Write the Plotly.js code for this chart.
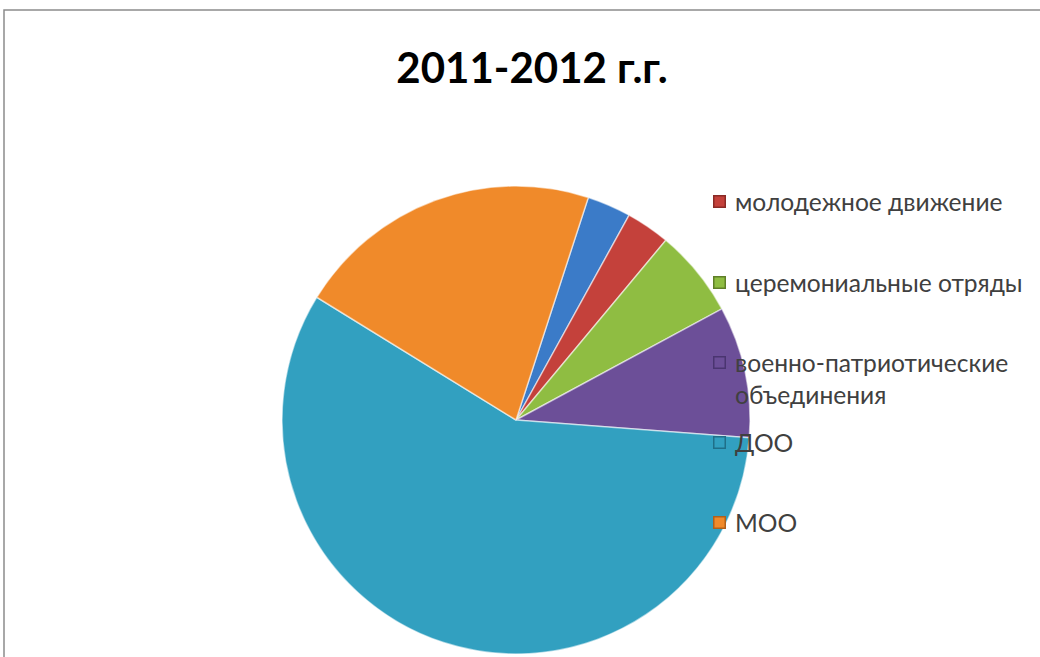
<!DOCTYPE html>
<html>
<head>
<meta charset="utf-8">
<script src="https://cdn.plot.ly/plotly-3.0.1.min.js"></script>
<style>html,body{margin:0;padding:0;background:#fff;}#chart{width:1040px;height:657px;}</style>
</head>
<body>
<div id="chart"></div>
<script>
// Data (first blue slice has no visible legend entry)
const labels = ["(без подписи)", "молодежное движение", "церемониальные отряды", "военно-патриотические объединения", "ДОО", "МОО"];
const values = [1, 1, 2, 3, 19, 7];
const colors = ["#3b7bc8", "#c4413b", "#8fbd42", "#6c4f98", "#32a0c0", "#f08a2a"];
const legendLabels = ["молодежное движение", "церемониальные отряды", "военно-патриотические<br>объединения", "ДОО", "МОО"];
const legendColors = colors.slice(1);
const legendEdge = ["#8a2a26", "#5f7f28", "#4a3570", "#1f6f88", "#b0601a"];
const titleText = "2011-2012 г.г.";

const W = 1040, H = 657;
const px = x => x / W;
const py = y => 1 - y / H;

const legendY = [201, 282, 362, 442, 522];
const annotations = [];
const shapes = [];
legendLabels.forEach((t, i) => {
  const y = legendY[i];
  annotations.push({xref: "paper", yref: "paper", x: px(719), y: py(y),
    xanchor: "center", yanchor: "middle", text: " ", showarrow: false,
    width: 10, height: 10, borderpad: 0, bgcolor: legendColors[i],
    bordercolor: legendEdge[i], borderwidth: 1.5,
    font: {size: 2}});
  annotations.push({xref: "paper", yref: "paper", x: px(733), y: py(y),
    xanchor: "left", yanchor: i === 2 ? "top" : "middle",
    yshift: i === 2 ? 16 : 0,
    text: t, showarrow: false, align: "left",
    font: {family: "Lato, 'Open Sans', sans-serif", size: 24.6, color: "#404040"}});
});
// frame border
shapes.push({type: "rect", xref: "paper", yref: "paper",
  x0: px(4), x1: px(1045), y0: py(662), y1: py(10),
  line: {color: "#8c8c8c", width: 1.5}, fillcolor: "rgba(0,0,0,0)", layer: "below"});

const data = [{
  type: "pie",
  labels: labels,
  values: values,
  sort: false,
  direction: "clockwise",
  rotation: 18,
  textinfo: "none",
  hoverinfo: "label+value",
  showlegend: false,
  marker: {colors: colors, line: {color: "rgba(255,255,255,0.55)", width: 1.5}},
  domain: {x: [px(281), px(751)], y: [py(654), py(186)]}
}];

const layout = {
  width: W, height: H,
  margin: {l: 0, r: 0, t: 0, b: 0},
  paper_bgcolor: "#ffffff",
  showlegend: false,
  title: {text: titleText, x: px(532), xanchor: "center", y: py(68), yanchor: "middle",
    font: {family: "Lato, 'Open Sans', sans-serif", size: 42, color: "#000", weight: "bold"}},
  shapes: shapes,
  annotations: annotations
};

Plotly.newPlot("chart", data, layout, {displayModeBar: false, staticPlot: true});
</script>
</body>
</html>
